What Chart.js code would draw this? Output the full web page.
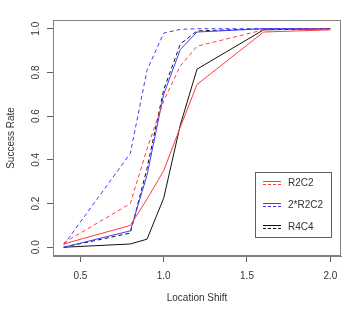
<!DOCTYPE html>
<html>
<head>
<meta charset="utf-8">
<script src="https://cdn.jsdelivr.net/npm/chart.js@4/dist/chart.umd.min.js"></script>
<style>
  body { margin: 0; background: #fff; }
  #wrap { width: 350px; height: 316px; }
</style>
</head>
<body>
<div id="wrap"><canvas id="myChart" width="350" height="316"></canvas></div>
<script>
// location shift values (x)
const shifts = [0.4, 0.8, 0.9, 1.0, 1.1, 1.2, 1.6, 2.0];

// success rates
const r2c2Solid   = [0.015, 0.10, 0.22, 0.35, 0.55, 0.745, 0.985, 0.995];
const r2c2Dashed  = [0.02, 0.20, 0.45, 0.67, 0.83, 0.92, 0.995, 1.0];
const r2c2x2Solid  = [0.0, 0.075, 0.33, 0.70, 0.905, 0.985, 1.0, 1.0];
const r2c2x2Dashed = [0.01, 0.43, 0.81, 0.98, 0.997, 1.0, 1.0, 1.0];
const r4c4Solid   = [0.0, 0.015, 0.037, 0.224, 0.56, 0.815, 0.995, 1.0];
const r4c4Dashed  = [0.0, 0.065, 0.36, 0.72, 0.93, 0.99, 1.0, 1.0];

const seriesNames = ['R2C2', '2*R2C2', 'R4C4'];
const xTicks = [0.5, 1.0, 1.5, 2.0];
const yTicks = [0.0, 0.2, 0.4, 0.6, 0.8, 1.0];

const red = '#ff3c3c';
const blue = '#3c3cff';
const black = '#111111';
const dash = [4, 3];
const fontFam = '"Liberation Sans", Arial, sans-serif';

function pts(vals) {
  return shifts.map((x, i) => ({ x: x, y: vals[i] }));
}

function line(label, vals, color, dashed) {
  return {
    label: label,
    data: pts(vals),
    borderColor: color,
    borderWidth: 1,
    borderDash: dashed ? dash : [],
    pointRadius: 0,
    tension: 0,
    fill: false
  };
}

// box around plot + legend like the R plot
const boxPlugin = {
  id: 'boxPlugin',
  afterDraw(chart) {
    const ctx = chart.ctx;
    const a = chart.chartArea;
    ctx.save();
    ctx.strokeStyle = '#808080';
    ctx.lineWidth = 1;
    ctx.setLineDash([]);
    ctx.strokeRect(a.left + 0.5, a.top + 0.5, a.right - a.left - 1, a.bottom - a.top - 1);

    // legend
    const lx = 255, ly = 172, lw = 76, lh = 65;
    ctx.fillStyle = '#fff';
    ctx.fillRect(lx, ly, lw, lh);
    ctx.strokeStyle = '#606060';
    ctx.strokeRect(lx + 0.5, ly + 0.5, lw, lh);
    const cols = [red, blue, black];
    const rows = [183, 205, 227];
    ctx.font = '10px ' + fontFam;
    ctx.textBaseline = 'middle';
    ctx.textAlign = 'left';
    seriesNames.forEach((name, i) => {
      const y = rows[i];
      ctx.strokeStyle = cols[i];
      ctx.setLineDash([]);
      ctx.beginPath();
      ctx.moveTo(263, y - 1.5);
      ctx.lineTo(281, y - 1.5);
      ctx.stroke();
      ctx.setLineDash([3, 2]);
      ctx.beginPath();
      ctx.moveTo(263, y + 1.5);
      ctx.lineTo(281, y + 1.5);
      ctx.stroke();
      ctx.fillStyle = '#333';
      ctx.fillText(name, 288, y);
    });
    ctx.restore();
  }
};

const ctx = document.getElementById('myChart').getContext('2d');
const myChart = new Chart(ctx, {
  type: 'line',
  data: {
    datasets: [
      line(seriesNames[0], r2c2Solid, red, false),
      line(seriesNames[0], r2c2Dashed, red, true),
      line(seriesNames[1], r2c2x2Solid, blue, false),
      line(seriesNames[1], r2c2x2Dashed, blue, true),
      line(seriesNames[2], r4c4Solid, black, false),
      line(seriesNames[2], r4c4Dashed, black, true)
    ]
  },
  options: {
    responsive: false,
    animation: false,
    layout: { padding: { top: 20, right: 9, left: 0, bottom: 0 } },
    plugins: { legend: { display: false }, tooltip: { enabled: false } },
    scales: {
      x: {
        type: 'linear',
        min: 0.336,
        max: 2.064,
        afterBuildTicks: s => { s.ticks = xTicks.map(v => ({ value: v })); },
        afterFit: s => { s.height = 60; },
        grid: { drawOnChartArea: false, drawTicks: true, tickLength: 6, color: '#606060' },
        border: { display: true, color: '#808080' },
        ticks: {
          padding: 8,
          color: '#333',
          font: { family: fontFam, size: 10 },
          maxRotation: 0,
          callback: v => Number(v).toFixed(1)
        },
        title: {
          display: true,
          text: 'Location Shift',
          color: '#333',
          font: { family: fontFam, size: 10 },
          padding: { top: 0, bottom: 12 }
        }
      },
      y: {
        type: 'linear',
        min: -0.04,
        max: 1.04,
        afterBuildTicks: s => { s.ticks = yTicks.map(v => ({ value: v })); },
        afterFit: s => { s.width = 53; },
        grid: { drawOnChartArea: false, drawTicks: true, tickLength: 6, color: '#606060' },
        border: { display: true, color: '#808080' },
        ticks: {
          padding: 4,
          color: '#333',
          minRotation: 90,
          maxRotation: 90,
          crossAlign: 'center',
          font: { family: fontFam, size: 10 },
          callback: v => Number(v).toFixed(1)
        },
        title: {
          display: true,
          text: 'Success Rate',
          color: '#333',
          font: { family: fontFam, size: 10 },
          padding: { top: 5, bottom: 0 }
        }
      }
    }
  },
  plugins: [boxPlugin]
});
</script>
</body>
</html>
